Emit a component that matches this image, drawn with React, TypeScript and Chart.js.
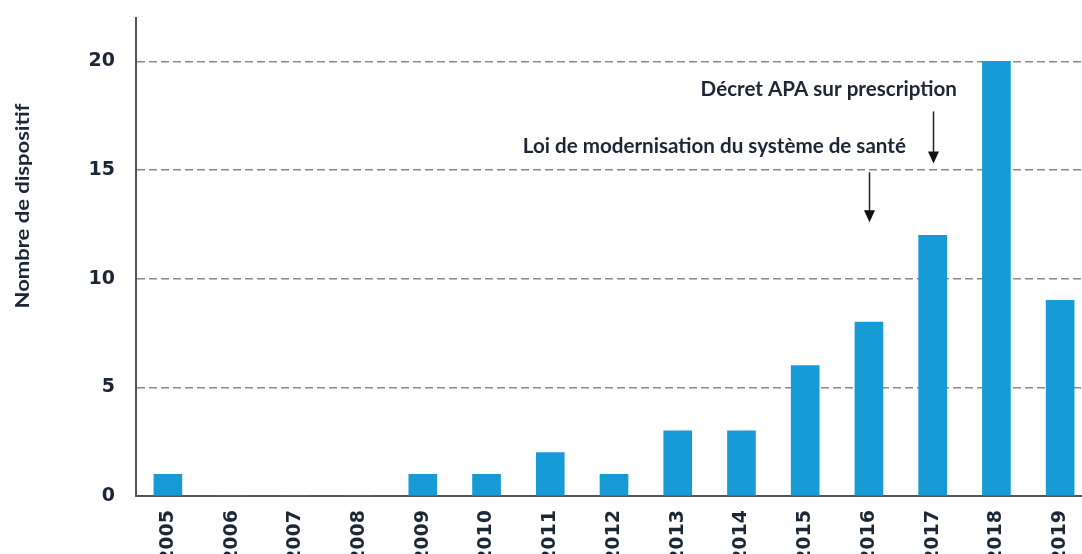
import React, { useEffect, useRef } from "react";
import { Chart, registerables } from "chart.js";

Chart.register(...registerables);

const years = ["2005","2006","2007","2008","2009","2010","2011","2012","2013","2014","2015","2016","2017","2018","2019"];
const counts = [1, 0, 0, 0, 1, 1, 2, 1, 3, 3, 6, 8, 12, 20, 9];
const yTicks = [0, 5, 10, 15, 20];
const yTitle = "Nombre de dispositif";
const annotationTexts = ["Décret APA sur prescription", "Loi de modernisation du système de santé"];
const annotationArrowIdx = [12, 11];
const annotationArrowFrom = [17.7, 14.9];
const annotationArrowTo = [15.3, 12.6];
const annotationTextRight = [12.38, 11.58];
const annotationTextValue = [18.7, 16.1];

const FONT = "Lato, 'Open Sans', sans-serif";
const TICK_FONT = "'DejaVu Sans', sans-serif";
const TEXT_COLOR = "#1c2736";

const W = 1100;
const H = 570;

const overlay = {
  id: "overlay",
  afterDraw(chart: any) {
    const { ctx, scales } = chart;
    const x = scales.x;
    const y = scales.y;
    ctx.save();
    ctx.fillStyle = TEXT_COLOR;
    ctx.font = `bold 22px ${FONT}`;
    ctx.textAlign = "center";
    ctx.textBaseline = "middle";
    ctx.translate(23, 206);
    ctx.rotate(-Math.PI / 2);
    ctx.scale(1, 0.85);
    ctx.fillText(yTitle, 0, 0);
    ctx.restore();

    ctx.save();
    ctx.font = `bold 20.6px ${FONT}`;
    ctx.textAlign = "right";
    ctx.textBaseline = "middle";
    annotationTexts.forEach((t, i) => {
      ctx.fillStyle = TEXT_COLOR;
      ctx.fillText(t, x.getPixelForValue(annotationTextRight[i]), y.getPixelForValue(annotationTextValue[i]));
      const ax = Math.round(x.getPixelForValue(annotationArrowIdx[i])) + 0.5;
      const y0 = y.getPixelForValue(annotationArrowFrom[i]);
      const y1 = y.getPixelForValue(annotationArrowTo[i]);
      ctx.strokeStyle = "#222";
      ctx.lineWidth = 1.5;
      ctx.beginPath();
      ctx.moveTo(ax, y0);
      ctx.lineTo(ax, y1 - 10);
      ctx.stroke();
      ctx.fillStyle = "#111";
      ctx.beginPath();
      ctx.moveTo(ax - 5.5, y1 - 12);
      ctx.lineTo(ax + 5.5, y1 - 12);
      ctx.lineTo(ax, y1);
      ctx.closePath();
      ctx.fill();
    });
    ctx.restore();
  },
};

export default function App() {
  const ref = useRef<HTMLCanvasElement>(null);
  useEffect(() => {
    if (!ref.current) return;
    const chart = new Chart(ref.current, {
      type: "bar",
      data: {
        labels: years,
        datasets: [
          {
            data: counts,
            backgroundColor: "#179bd7",
            barThickness: 28,
          },
        ],
      },
      options: {
        responsive: false,
        animation: false,
        devicePixelRatio: 1,
        layout: { padding: { top: 18, right: 8, left: 0, bottom: 0 } },
        plugins: { legend: { display: false }, tooltip: { enabled: false } },
        scales: {
          x: {
            grid: { display: false, drawTicks: false },
            border: { display: true, color: "#555", width: 2 },
            ticks: {
              autoSkip: false,
              minRotation: 90,
              maxRotation: 90,
              padding: 14,
              color: TEXT_COLOR,
              font: { family: TICK_FONT, size: 19, weight: "bold" },
            },
            afterFit: (s: any) => {
              s.height = H - 496;
              s.paddingLeft = 0;
              s.paddingRight = 0;
            },
          },
          y: {
            min: 0,
            max: 22,
            afterBuildTicks: (s: any) => {
              s.ticks = yTicks.map((v) => ({ value: v }));
            },
            grid: {
              drawTicks: false,
              lineWidth: 1.6,
              color: (c: any) => (c.tick && c.tick.value === 0 ? "rgba(0,0,0,0)" : "#8a8a8a"),
            },
            border: { display: true, color: "#555", width: 2, dash: [8, 4] },
            ticks: {
              padding: 21,
              color: TEXT_COLOR,
              font: { family: TICK_FONT, size: 19, weight: "bold" },
            },
            afterFit: (s: any) => {
              s.width = 136;
              s.paddingTop = 0;
              s.paddingBottom = 0;
            },
          },
        },
      },
      plugins: [overlay],
    });
    return () => chart.destroy();
  }, []);
  return (
    <div style={{ position: "fixed", left: 0, top: 0, width: 1082, height: 554, overflow: "hidden", background: "#fff" }}>
      <canvas ref={ref} width={W} height={H} style={{ width: W, height: H, display: "block" }} />
    </div>
  );
}
